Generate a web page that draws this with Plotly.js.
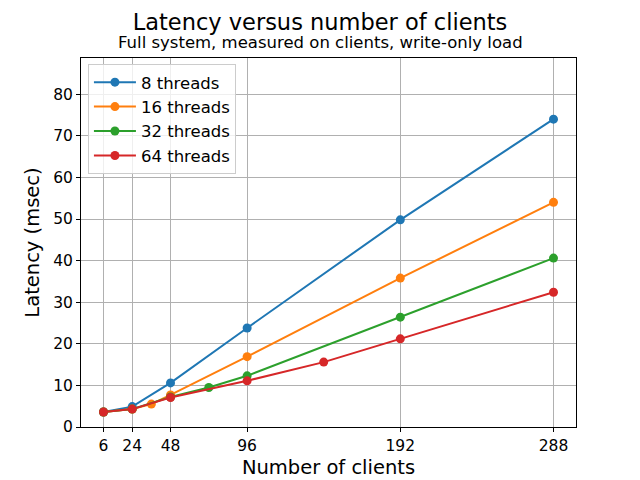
<!DOCTYPE html>
<html>
<head>
<meta charset="utf-8">
<script src="https://cdn.plot.ly/plotly-3.0.1.min.js"></script>
<style>html,body{margin:0;padding:0;background:#fff;}#chart{width:640px;height:480px;}</style>
</head>
<body>
<div id="chart"></div>
<script>
const seriesNames = ["8 threads", "16 threads", "32 threads", "64 threads"];
const colors = ["#1f77b4", "#ff7f0e", "#2ca02c", "#d62728"];

const clients8  = [6, 24, 48, 96, 192, 288];
const latency8  = [3.6, 4.9, 10.6, 23.8, 49.8, 74.0];

const clients16 = [6, 24, 36, 48, 96, 192, 288];
const latency16 = [3.6, 4.3, 5.5, 7.7, 16.9, 35.8, 54.0];

const clients32 = [6, 24, 48, 72, 96, 192, 288];
const latency32 = [3.6, 4.3, 7.2, 9.5, 12.3, 26.4, 40.6];

const clients64 = [6, 24, 48, 96, 144, 192, 288];
const latency64 = [3.6, 4.3, 7.1, 11.1, 15.6, 21.2, 32.4];

const xTicks = [6, 24, 48, 96, 192, 288];
const yTicks = [0, 10, 20, 30, 40, 50, 60, 70, 80];

const xs = [clients8, clients16, clients32, clients64];
const ys = [latency8, latency16, latency32, latency64];

const font = "DejaVu Sans, sans-serif";

const traces = seriesNames.map((name, i) => ({
  type: "scatter",
  mode: "lines+markers",
  name: name,
  x: xs[i],
  y: ys[i],
  line: {color: colors[i], width: 2},
  marker: {color: colors[i], size: 9}
}));

const layout = {
  width: 640, height: 480,
  margin: {l: 81, r: 64, t: 58, b: 53},
  paper_bgcolor: "#fff",
  plot_bgcolor: "#fff",
  font: {family: font, color: "#000", size: 15},
  title: {
    text: "Latency versus number of clients",
    font: {family: font, size: 22.5, color: "#000"},
    x: 0.5, xref: "container", xanchor: "center",
    y: 1 - 22/480, yref: "container", yanchor: "middle"
  },
  annotations: [{
    text: "Full system, measured on clients, write-only load",
    xref: "paper", yref: "paper",
    x: (320 - 81) / 495, y: (427 - 43) / 369,
    xanchor: "center", yanchor: "middle",
    showarrow: false,
    font: {family: font, size: 16.5, color: "#000"}
  }],
  xaxis: {
    range: [-8.1, 302.1],
    tickmode: "array", tickvals: xTicks, ticktext: xTicks.map(String),
    showgrid: true, gridcolor: "#b0b0b0", gridwidth: 1,
    zeroline: false,
    showline: true, linecolor: "#000", linewidth: 1, mirror: true,
    ticks: "outside", ticklen: 4, tickcolor: "#000", tickwidth: 1,
    tickfont: {family: font, size: 15.5, color: "#000"},
    title: {text: "Number of clients", font: {family: font, size: 19.5, color: "#000"}, standoff: 6}
  },
  yaxis: {
    range: [0, 88.7],
    tickmode: "array", tickvals: yTicks, ticktext: yTicks.map(String),
    showgrid: true, gridcolor: "#b0b0b0", gridwidth: 1,
    zeroline: false,
    showline: true, linecolor: "#000", linewidth: 1, mirror: true,
    ticks: "outside", ticklen: 4, tickcolor: "#000", tickwidth: 1,
    tickfont: {family: font, size: 15.5, color: "#000"},
    title: {text: "Latency (msec)", font: {family: font, size: 19.5, color: "#000"}, standoff: 8}
  },
  legend: {
    x: 0.014, y: 0.984, xanchor: "left", yanchor: "top",
    bgcolor: "rgba(255,255,255,0.8)",
    bordercolor: "#cccccc", borderwidth: 1,
    font: {family: font, size: 16.5, color: "#000"},
    itemwidth: 42,
    tracegroupgap: 0
  },
  showlegend: true
};

Plotly.newPlot("chart", traces, layout, {displayModeBar: false, staticPlot: true});
</script>
</body>
</html>
